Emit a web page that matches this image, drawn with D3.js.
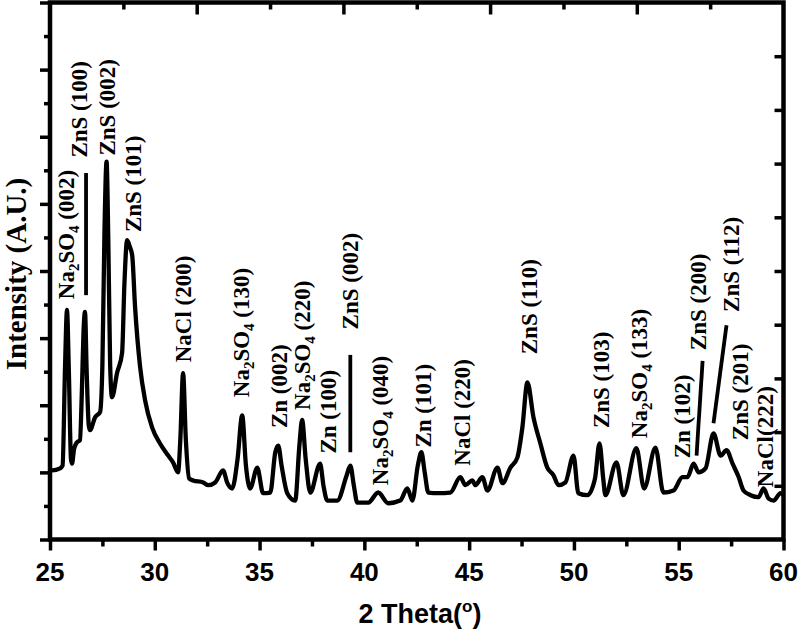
<!DOCTYPE html>
<html>
<head>
<meta charset="utf-8">
<script src="https://cdn.jsdelivr.net/npm/d3@7"></script>
<style>
  html, body { margin: 0; padding: 0; background: #fff; }
  .tick-label { font-family: "Liberation Sans", Arial, sans-serif; font-weight: bold; font-size: 26px; }
  .axis-title { font-family: "Liberation Sans", Arial, sans-serif; font-weight: bold; font-size: 27px; }
  .y-title { font-family: "Liberation Serif", "Times New Roman", serif; font-weight: bold; font-size: 29px; }
  .peak-label { font-family: "Liberation Serif", "Times New Roman", serif; font-weight: bold; font-size: 23px; }
</style>
</head>
<body>
<svg id="chart" width="800" height="633"></svg>
<script>
// XRD pattern, 2θ (deg) vs intensity (A.U.)
const THETA = [
  25.00, 25.10, 25.48, 25.60, 25.72, 25.81, 25.90, 26.00, 26.05, 26.15, 26.29, 26.43,
  26.52, 26.60, 26.67, 26.75, 26.85, 26.91, 27.15, 27.39, 27.50, 27.60, 27.70, 27.78,
  27.87, 27.96, 28.20, 28.44, 28.55, 28.68, 28.82, 28.92, 29.06, 29.30, 29.54, 29.87,
  30.25, 30.64, 30.87, 31.11, 31.22, 31.35, 31.48, 31.64, 31.83, 32.31, 32.55, 32.88,
  33.26, 33.45, 33.69, 33.95, 34.17, 34.35, 34.55, 34.89, 35.17, 35.51, 35.75, 35.89,
  36.05, 36.32, 36.70, 36.90, 37.03, 37.20, 37.42, 37.89, 38.05, 38.23, 38.71, 39.15,
  39.33, 39.50, 39.66, 40.19, 40.66, 41.14, 41.71, 42.05, 42.29, 42.55, 42.72, 42.88,
  43.05, 43.53, 44.10, 44.58, 44.82, 45.15, 45.30, 45.63, 45.87, 46.35, 46.59, 46.97,
  47.30, 47.54, 47.78, 48.07, 48.40, 48.73, 49.02, 49.26, 49.59, 49.98, 50.21, 50.64,
  51.00, 51.22, 51.40, 51.50, 52.03, 52.36, 52.98, 53.35, 53.89, 54.27, 54.75, 55.18,
  55.42, 55.71, 55.95, 56.28, 56.66, 57.00, 57.28, 57.57, 57.86, 58.09, 58.43, 58.81,
  59.05, 59.29, 59.53, 59.86, 60.00
];
const INTENSITY = [
  1030, 1030, 1060, 1100, 2600, 3420, 2500, 1200, 1130, 1350, 1450, 1480,
  2200, 3100, 3390, 2500, 1700, 1630, 1820, 1900, 2600, 4600, 5630, 4500,
  2600, 2120, 2480, 2780, 3800, 4460, 4350, 4240, 3460, 2570, 2070, 1670,
  1430, 1250, 1150, 1000, 1500, 2480, 1500, 910, 880, 850, 810, 850,
  1030, 850, 760, 1200, 1850, 1100, 760, 1070, 690, 700, 1300, 1400,
  1100, 690, 580, 1400, 1780, 1200, 700, 1130, 800, 580, 580, 950,
  1100, 800, 550, 550, 700, 540, 580, 760, 580, 1100, 1300, 1000,
  700, 690, 700, 930, 810, 880, 810, 930, 730, 1070, 840, 1070,
  1220, 1670, 2340, 1820, 1430, 1070, 960, 810, 850, 1250, 690, 660,
  900, 1430, 900, 660, 1150, 660, 1360, 760, 1370, 700, 730, 930,
  930, 1130, 1000, 1060, 1580, 1250, 1330, 1130, 930, 730, 660, 630,
  760, 610, 580, 690, 660
];

// peak labels: text ("_" marks a subscript digit), 2θ of baseline, intensity at text start
const LABEL_TEXT = [
  "Na_2SO_4 (002)", "ZnS (100)", "ZnS (002)", "ZnS (101)", "NaCl (200)", "Na_2SO_4 (130)",
  "Zn (002)", "Na_2SO_4 (220)", "Zn (100)", "ZnS (002)", "Na_2SO_4 (040)", "Zn (101)",
  "NaCl (220)", "ZnS (110)", "ZnS (103)", "Na_2SO_4 (133)", "Zn (102)", "ZnS (200)",
  "ZnS (112)", "ZnS (201)", "NaCl(222)"
];
const LABEL_THETA = [
  26.15, 26.77, 28.10, 29.35, 31.73, 34.50, 36.32, 37.42, 38.66, 39.71, 41.14,
  43.19, 45.06, 48.26, 51.65, 53.51, 55.56, 56.28, 57.86, 58.29, 59.48
];
const LABEL_INTENSITY = [
  3580, 5690, 5720, 4580, 2640, 2120, 1660, 1930, 1280, 3130, 810,
  1370, 1100, 2760, 1660, 1510, 1210, 2820, 3390, 1480, 780
];

// leader lines [theta1, I1, theta2, I2]
const LEADERS = [
  [26.72, 5460, 26.72, 3640],
  [39.33, 2750, 39.33, 1300],
  [56.14, 2660, 55.85, 1250],
  [57.28, 3190, 56.66, 1730]
];

const X_TICKS = [25, 30, 35, 40, 45, 50, 55, 60];

const svg = d3.select("#chart");
const plotLeft = 50, plotRight = 783.5, plotTop = 2.5, plotBottom = 539.5;

const x = d3.scaleLinear().domain([25, 60]).range([plotLeft, plotRight]);
const y = d3.scaleLinear().domain([0, 8000]).range([plotBottom, plotTop]);
const yRight = d3.scaleLinear().domain([0, 10]).range([plotBottom, plotTop]);
const xTop = d3.scaleLinear().domain([0, 10]).range([plotLeft, plotRight]);

// bottom axis, outward ticks
const gx = svg.append("g").attr("transform", `translate(0,${plotBottom})`)
  .call(d3.axisBottom(x).tickValues(d3.range(25, 60.01, 2.5)).tickSize(0).tickFormat(""));
gx.select(".domain").remove();
gx.selectAll(".tick line")
  .attr("y2", d => d % 5 === 0 ? 11 : 7)
  .attr("stroke", "#000").attr("stroke-width", 3.5);

svg.append("g").selectAll("text")
  .data(X_TICKS)
  .join("text")
  .attr("class", "tick-label")
  .attr("x", d => x(d))
  .attr("y", 581)
  .attr("text-anchor", "middle")
  .text(d => d);

// left axis, outward ticks
const gy = svg.append("g").attr("transform", `translate(${plotLeft},0)`)
  .call(d3.axisLeft(y).tickValues(d3.range(0, 8001, 500)).tickSize(0).tickFormat(""));
gy.select(".domain").remove();
gy.selectAll(".tick line")
  .attr("x2", d => d % 1000 === 0 ? -10 : -6)
  .attr("stroke", "#000").attr("stroke-width", 3.5);

// right axis, inward ticks
const gr = svg.append("g").attr("transform", `translate(${plotRight},0)`)
  .call(d3.axisRight(yRight).tickValues(d3.range(1, 10)).tickSize(0).tickFormat(""));
gr.select(".domain").remove();
gr.selectAll(".tick line")
  .attr("x2", -9)
  .attr("stroke", "#000").attr("stroke-width", 3.5);

// top axis, inward ticks
const gt = svg.append("g").attr("transform", `translate(0,${plotTop})`)
  .call(d3.axisTop(xTop).tickValues(d3.range(1, 10)).tickSize(0).tickFormat(""));
gt.select(".domain").remove();
gt.selectAll(".tick line")
  .attr("y2", d => d % 2 === 0 ? 12 : 7)
  .attr("stroke", "#000").attr("stroke-width", 3.5);

// frame
svg.append("rect")
  .attr("x", plotLeft).attr("y", plotTop)
  .attr("width", plotRight - plotLeft).attr("height", plotBottom - plotTop)
  .attr("fill", "none").attr("stroke", "#000").attr("stroke-width", 4.5);

// pattern
const points = THETA.map((t, i) => [t, INTENSITY[i]]);
const line = d3.line()
  .x(d => x(d[0]))
  .y(d => y(d[1]))
  .curve(d3.curveMonotoneX);

svg.append("path")
  .datum(points)
  .attr("d", line)
  .attr("fill", "none")
  .attr("stroke", "#000")
  .attr("stroke-width", 4.3)
  .attr("stroke-linejoin", "round");

// leader lines
svg.append("g").selectAll("line")
  .data(LEADERS)
  .join("line")
  .attr("x1", d => x(d[0])).attr("y1", d => y(d[1]))
  .attr("x2", d => x(d[2])).attr("y2", d => y(d[3]))
  .attr("stroke", "#000").attr("stroke-width", 3.8);

// peak labels
const labels = svg.append("g").selectAll("text")
  .data(LABEL_TEXT.map((text, i) => ({ text, theta: LABEL_THETA[i], value: LABEL_INTENSITY[i] })))
  .join("text")
  .attr("class", "peak-label")
  .attr("transform", d => `translate(${x(d.theta)},${y(d.value)}) rotate(-90)`);

labels.each(function (d) {
  const el = d3.select(this);
  const parts = d.text.split(/(_\d)/).filter(p => p.length);
  let shifted = false;
  parts.forEach(p => {
    if (p[0] === "_") {
      el.append("tspan").attr("dy", 5).attr("font-size", 15).text(p.slice(1));
      shifted = true;
    } else {
      el.append("tspan").attr("dy", shifted ? -5 : null).text(p);
      shifted = false;
    }
  });
});

// axis titles
svg.append("text")
  .attr("class", "axis-title")
  .attr("x", 420).attr("y", 623)
  .attr("text-anchor", "middle")
  .html('2 Theta(<tspan font-size="17" dy="-11">o</tspan><tspan dy="11">)</tspan>');

svg.append("text")
  .attr("class", "y-title")
  .attr("transform", "translate(26,274) rotate(-90)")
  .attr("text-anchor", "middle")
  .text("Intensity (A.U.)");
</script>
</body>
</html>
